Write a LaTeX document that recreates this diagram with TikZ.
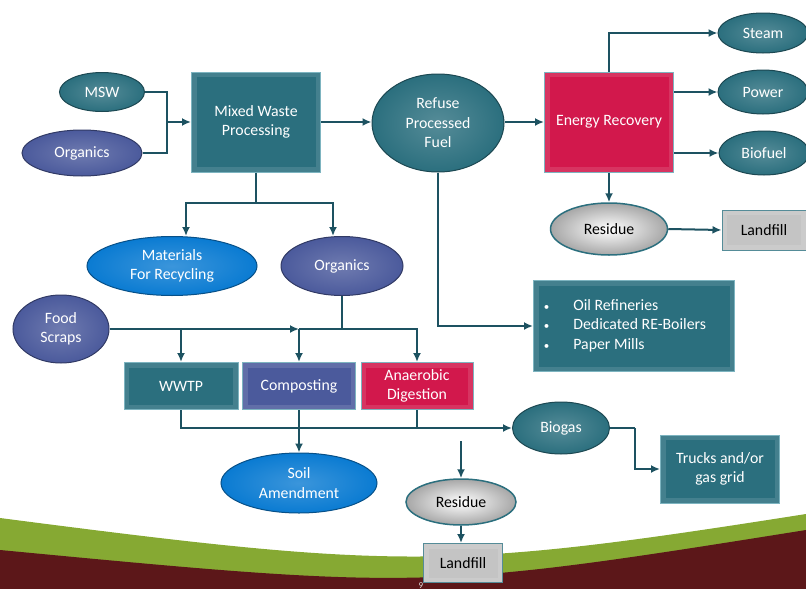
\documentclass[tikz,border=0pt]{standalone}
\usepackage{fontspec}
\setmainfont{Carlito}
\usetikzlibrary{shapes.geometric,arrows.meta}

\definecolor{tealfill}{HTML}{2B6F7E}
\definecolor{tealrim}{HTML}{7DB4C0}
\definecolor{purpfill}{HTML}{4B5A9C}
\definecolor{skyfill}{HTML}{0A7BD2}
\definecolor{crimfill}{HTML}{D2184C}
\definecolor{grayfill}{HTML}{C4C4C4}
\definecolor{wire}{HTML}{1D5261}
\definecolor{leaf}{HTML}{86A933}
\definecolor{maroon}{HTML}{5C1719}

\newcommand{\dotitem}{{\fontsize{11}{11}\selectfont\textbullet}}

\tikzset{
  lbl/.style={font=\fontsize{15.8}{19.5}\selectfont, text=white, align=center, inner sep=0pt},
  oval/.style={lbl, ellipse, shading=radial, inner color=#1!80!white, outer color=#1,
    draw=#1!65!black, line width=1pt},
  block/.style={lbl, rectangle, fill=#1, draw=tealrim, line width=1pt,
    path picture={
      \fill[#1!88!white] (path picture bounding box.south west) rectangle (path picture bounding box.north east);
      \fill[#1] ([xshift=5pt,yshift=5pt]path picture bounding box.south west)
        rectangle ([xshift=-5pt,yshift=-5pt]path picture bounding box.north east);
    }},
  greyoval/.style={lbl, ellipse, text=black, shading=radial, inner color=white, outer color=grayfill!85!black,
    draw=tealfill, line width=1.5pt},
  greyblock/.style={block=grayfill, text=black, draw=tealfill!80!white},
  link/.style={draw=wire, line width=2pt},
  flow/.style={link, -{Latex[length=9pt,width=8pt]}},
}

\begin{document}
\begin{tikzpicture}[x=1pt,y=-1pt]
\useasboundingbox (0,0) rectangle (806,589);
\fill[leaf] (0,518) .. controls (400,570) and (450,570) .. (806,514) -- (806,589) -- (0,589) -- cycle;
\fill[maroon] (0,550) .. controls (420,590) and (430,590) .. (806,530) -- (806,589) -- (0,589) -- cycle;

\node[oval=tealfill, minimum width=85pt, minimum height=39pt] (msw) at (102,92) {MSW};
\node[oval=purpfill, minimum width=120pt, minimum height=46pt] (orgA) at (82,153) {Organics};
\node[block=tealfill, minimum width=129pt, minimum height=100pt] (mwp) at (256,122) {Mixed Waste\\Processing};
\node[oval=tealfill, minimum width=132pt, minimum height=98pt] (rpf) at (438,123) {Refuse\\Processed\\Fuel};
\node[block=crimfill, minimum width=129pt, minimum height=100pt] (er) at (609,122) {Energy Recovery};
\node[oval=tealfill, minimum width=90pt, minimum height=40pt] (steam) at (763,33) {Steam};
\node[oval=tealfill, minimum width=90pt, minimum height=44pt] (power) at (763,92) {Power};
\node[oval=tealfill, minimum width=90pt, minimum height=44pt] (bio) at (764,153) {Biofuel};
\node[greyoval, minimum width=117pt, minimum height=52pt] (resR) at (609,229) {Residue};
\node[greyblock, minimum width=84pt, minimum height=40pt] (lfR) at (764,230) {Landfill};
\node[oval=skyfill, minimum width=170pt, minimum height=59pt] (mat) at (172,266) {Materials\\For Recycling};
\node[oval=purpfill, minimum width=122pt, minimum height=59pt] (orgB) at (342,266) {Organics};
\node[oval=purpfill, minimum width=96pt, minimum height=68pt] (food) at (61,329) {Food\\Scraps};
\node[block=tealfill, minimum width=201pt, minimum height=91pt] (oil) at (634,326)
  {\begin{tabular}{@{}l@{\hspace{24pt}}l@{\hspace{18pt}}}\dotitem & Oil Refineries\\ \dotitem & Dedicated RE-Boilers\\ \dotitem & Paper Mills\end{tabular}};
\node[block=tealfill, minimum width=114pt, minimum height=47pt] (wwtp) at (181,386) {WWTP};
\node[block=purpfill, minimum width=113pt, minimum height=47pt] (comp) at (299,386) {Composting};
\node[block=crimfill, minimum width=112pt, minimum height=47pt] (ad) at (417,386) {Anaerobic\\Digestion};
\node[oval=tealfill, minimum width=97pt, minimum height=52pt] (gas) at (561,428) {Biogas};
\node[block=tealfill, minimum width=119pt, minimum height=68pt] (trk) at (720,469) {Trucks and/or\\gas grid};
\node[oval=skyfill, minimum width=156pt, minimum height=60pt] (soil) at (299,483) {Soil\\Amendment};
\node[greyoval, minimum width=110pt, minimum height=46pt] (resB) at (461,502) {Residue};
\node[greyblock, minimum width=79pt, minimum height=39pt] (lfB) at (463,563) {Landfill};
\node[font=\fontsize{9}{9}\selectfont, text=white!75!gray, inner sep=0pt, anchor=south] (pg) at (421,588.5) {9};

\coordinate (jin) at (167,122);
\coordinate (jsplit) at (256,203);
\coordinate (jmix) at (299,329);
\coordinate (jfood) at (342,329);
\coordinate (rtop) at (461,441);
\coordinate (jt) at (635,428);

\draw[link] (msw.east) -| (jin);
\draw[link] (orgA.east) -| (jin);
\draw[flow] (jin) -- (mwp.west);
\draw[flow] (mwp.east) -- (mwp.east -| rpf.west);
\draw[flow] (rpf.east |- er.west) -- (er.west);
\draw[flow] (er.north) |- (steam.west);
\draw[flow] (er.east |- power.west) -- (power.west);
\draw[flow] (er.east |- bio.west) -- (bio.west);
\draw[flow] (er.south) -- (resR.north);
\draw[flow] (resR.east) -- (lfR.west);
\draw[link] (mwp.south) -- (jsplit);
\draw[flow] (jsplit) -| ([xshift=14pt]mat.north);
\draw[flow] (jsplit) -| ([xshift=-9pt]orgB.north);
\draw[flow] (rpf.south) |- (oil.west);
\draw[link] (orgB.south) -- (jfood);
\draw[flow] (food.east) -- (jmix);
\draw[link] (jmix) -- (jfood);
\draw[flow] (wwtp.north |- jmix) -- (wwtp.north);
\draw[flow] (jmix) -- (comp.north);
\draw[flow] (jfood) -| (ad.north);
\draw[flow] (wwtp.south) |- (gas.west);
\draw[link] (ad.south) -- (ad.south |- gas.west);
\draw[flow] (comp.south) -- (soil.north);
\draw[flow] (rtop) -- (resB.north);
\draw[flow] (resB.south) -- (resB.south |- lfB.north);
\draw[link] (gas.east) -- (jt);
\draw[flow] (jt) |- (trk.west);
\end{tikzpicture}
\end{document}
